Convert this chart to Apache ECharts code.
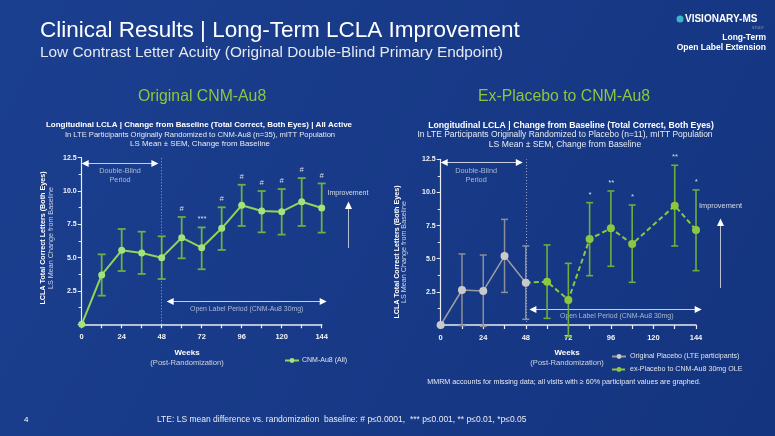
<!DOCTYPE html>
<html><head><meta charset="utf-8">
<script src="https://cdn.jsdelivr.net/npm/echarts@6/dist/echarts.min.js"></script>
<style>html,body{margin:0;padding:0;background:#16387f;}#c{width:775px;height:436px;}</style>
</head><body><div id="c"></div>
<script>
// ---- data ----
const weeks = [0,12,24,36,48,60,72,84,96,108,120,132,144];
const leftMean  = [0,3.7,5.55,5.35,5.0,6.5,5.75,7.2,8.93,8.5,8.45,9.2,8.73];
const leftUpper = [null,5.25,7.15,6.95,6.6,8.05,7.27,8.78,10.47,10.0,10.15,10.97,10.57];
const leftLower = [null,2.15,4.0,3.78,3.4,4.95,4.13,5.58,7.38,6.9,6.73,7.38,6.88];
const leftSig   = ['','','','','','#','***','#','#','#','#','#','#'];

const placeboWeeks = [0,12,24,36,48];
const placeboMean  = [0,2.64,2.57,5.2,3.19];
const placeboUpper = [null,5.36,5.28,7.97,5.96];
const placeboLower = [null,-0.05,-0.1,2.46,0.43];

const oleWeeks = [48,60,72,84,96,108,132,144];
const oleMean  = [3.19,3.27,1.89,6.49,7.29,6.11,9.0,7.17];
const oleUpper = [null,6.04,4.65,9.23,10.11,9.05,12.05,10.19];
const oleLower = [null,0.5,-0.88,3.72,4.43,3.22,5.96,4.1];
const oleSig   = ['','','','*','**','*','**','*'];

const xTicks = [0,24,48,72,96,120,144];
const yTicks = [2.5,5.0,7.5,10.0,12.5];

// ---- helpers ----
const FONT = 'Arial, "Liberation Sans", sans-serif';
function errSeries(name, xIdx, xs, hi, lo, sig, color, capW, lw){
  const data = [];
  xs.forEach((w,i)=>{ if(hi[i]!=null) data.push([w,hi[i],lo[i],i]); });
  return {
    type:'custom', name:name, xAxisIndex:xIdx, yAxisIndex:xIdx, z:3, silent:true,
    clip:false,
    data:data,
    renderItem:function(params, api){
      const x=api.value(0), h=api.value(1), l=api.value(2), k=api.value(3);
      const a=api.coord([x,h]), b=api.coord([x,l]);
      const st={stroke:color,lineWidth:lw};
      const ch=[
        {type:'line',shape:{x1:a[0],y1:a[1],x2:b[0],y2:b[1]},style:st},
        {type:'line',shape:{x1:a[0]-capW/2,y1:a[1],x2:a[0]+capW/2,y2:a[1]},style:st},
        {type:'line',shape:{x1:b[0]-capW/2,y1:b[1],x2:b[0]+capW/2,y2:b[1]},style:st}
      ];
      const s = sig ? sig[k] : '';
      if(s){
        ch.push({type:'text',x:a[0],y:a[1]-4,style:{text:s,align:'center',verticalAlign:'bottom',fill:'#d8dce8',font:'italic 7.5px '+FONT}});
      }
      return {type:'group',children:ch};
    }
  };
}
function textSeries(xIdx, items){
  return {
    type:'scatter', xAxisIndex:xIdx, yAxisIndex:xIdx, symbolSize:0, silent:true, clip:false,
    data: items.map(t=>({value:[t[0],t[1]],label:{show:true,formatter:t[2],position:'inside',color:'#d0d6e4',fontSize:t[3],fontFamily:FONT,lineHeight:9}}))
  };
}
function vline(xIdx){
  return {
    type:'line', xAxisIndex:xIdx, yAxisIndex:xIdx, data:[], silent:true, z:1,
    markLine:{silent:true,symbol:'none',label:{show:false},lineStyle:{color:'#9aa6c4',type:[1,2],width:1},data:[{xAxis:48}]}
  };
}
const xAxisBase = {
  type:'value', min:0, max:144, interval:12,
  axisLine:{show:true,lineStyle:{color:'#e8ebf2',width:1.5}},
  axisTick:{show:true,length:4,lineStyle:{color:'#e8ebf2',width:1.2}},
  axisLabel:{color:'#f2f4f8',fontSize:7.5,fontWeight:'bold',fontFamily:FONT,margin:9,
    formatter:v=> xTicks.indexOf(v)>=0 ? String(v) : ''},
  splitLine:{show:false}
};
const yAxisBase = {
  type:'value', min:0, max:12.5, interval:2.5,
  axisLine:{show:true,lineStyle:{color:'#e8ebf2',width:1.2}},
  axisTick:{show:true,length:4,lineStyle:{color:'#e8ebf2'}},
  minorTick:{show:true,splitNumber:2,length:3,lineStyle:{color:'#e8ebf2'}},
  axisLabel:{color:'#f2f4f8',fontSize:7,fontWeight:'bold',fontFamily:FONT,margin:5,
    formatter:v=> yTicks.indexOf(v)>=0 ? v.toFixed(1) : ''},
  splitLine:{show:false}
};

const chart = echarts.init(document.getElementById('c'), null, {renderer:'canvas'});
const option = {
  backgroundColor:{type:'linear',x:0,y:0,x2:1,y2:1,colorStops:[{offset:0,color:'#1b3f8f'},{offset:1,color:'#14347f'}]},
  animation:false,
  textStyle:{fontFamily:FONT},
  grid:[
    {left:81.7, top:157.7, width:240, height:166.6},
    {left:440.7, top:159.3, width:255.3, height:165.7}
  ],
  xAxis:[Object.assign({gridIndex:0},xAxisBase), Object.assign({gridIndex:1},xAxisBase)],
  yAxis:[Object.assign({gridIndex:0},yAxisBase), Object.assign({gridIndex:1},yAxisBase)],
  legend:[
    {data:['CNM-Au8 (All)'], left:279, top:352, itemWidth:14, itemHeight:6, itemGap:4,
     textStyle:{color:'#dfe3ec',fontSize:7,fontFamily:FONT,padding:[0,0,0,-2]}},
    {data:['Original Placebo (LTE participants)','ex-Placebo to CNM-Au8 30mg OLE'], orient:'vertical',
     left:606, top:348, itemGap:6, itemWidth:14, itemHeight:6,
     textStyle:{color:'#dfe3ec',fontSize:7.1,fontFamily:FONT,padding:[0,0,0,-1]}}
  ],
  series:[
    vline(0), vline(1),
    textSeries(0, [[23,11.2,'Double-Blind\nPeriod',7.3],[99,1.13,'Open Label Period (CNM-Au8 30mg)',6.9]]),
    textSeries(1, [[20,11.3,'Double-Blind\nPeriod',7.3],[99.3,0.7,'Open Label Period (CNM-Au8 30mg)',6.9]]),
    errSeries('errL',0,weeks,leftUpper,leftLower,leftSig,'#6dae45',8,1.8),
    {
      type:'line', name:'CNM-Au8 (All)', xAxisIndex:0, yAxisIndex:0, z:5,
      data: weeks.map((w,i)=>[w,leftMean[i]]),
      lineStyle:{color:'#93d455',width:2},
      itemStyle:{color:'#a6e27c'},
      symbol:'circle', symbolSize:7
    },
    errSeries('errP',1,placeboWeeks,placeboUpper,placeboLower,null,'#8d8f96',7,1.5),
    errSeries('errO',1,oleWeeks,oleUpper,oleLower,oleSig,'#6dae3c',7,1.6),
    {
      type:'line', name:'ex-Placebo to CNM-Au8 30mg OLE', xAxisIndex:1, yAxisIndex:1, z:5,
      data: oleWeeks.map((w,i)=> i===0 ? {value:[w,oleMean[i]],symbolSize:0} : [w,oleMean[i]]),
      lineStyle:{color:'#8cc83f',width:2,type:[5,3]},
      itemStyle:{color:'#8cc83f'},
      symbol:'circle', symbolSize:8
    },
    {
      type:'line', name:'Original Placebo (LTE participants)', xAxisIndex:1, yAxisIndex:1, z:6,
      data: placeboWeeks.map((w,i)=>[w,placeboMean[i]]),
      lineStyle:{color:'#9b9da3',width:1.5},
      itemStyle:{color:'#c9cacd'},
      symbol:'circle', symbolSize:8
    }
  ]
};
chart.setOption(option);

// ---- annotations (period arrows placed in data space) ----
const periodArrows = [
  {g:0, x0:0, x1:46, y:12.08},
  {g:0, x0:51, x1:147, y:1.73},
  {g:1, x0:0, x1:46.3, y:12.27},
  {g:1, x0:50, x1:147.2, y:1.21}
];
const gfx = [];
periodArrows.forEach(a=>{
  const p0 = chart.convertToPixel({gridIndex:a.g}, [a.x0, a.y]);
  const p1 = chart.convertToPixel({gridIndex:a.g}, [a.x1, a.y]);
  const y = Math.round(p0[1])+0.5;
  gfx.push({type:'line',shape:{x1:p0[0]+5,y1:y,x2:p1[0]-5,y2:y},style:{stroke:'#c8cede',lineWidth:1}});
  gfx.push({type:'polygon',shape:{points:[[p0[0],y],[p0[0]+7,y-3.5],[p0[0]+7,y+3.5]]},style:{fill:'#ffffff'}});
  gfx.push({type:'polygon',shape:{points:[[p1[0],y],[p1[0]-7,y-3.5],[p1[0]-7,y+3.5]]},style:{fill:'#ffffff'}});
});

const T = (x,y,text,font,fill,extra)=>Object.assign({type:'text',x:x,y:y,style:Object.assign({text:text,fill:fill,font:font+' '+FONT,verticalAlign:'middle'},extra||{})});
const C = {align:'center'};
gfx.push(
  T(40,31,'Clinical Results | Long-Term LCLA Improvement','22.5px','#ffffff'),
  T(40,53,'Low Contrast Letter Acuity (Original Double-Blind Primary Endpoint)','15.4px','#e4e8f0'),
  T(138,97,'Original CNM-Au8','15.8px','#8cc63f'),
  T(478,97,'Ex-Placebo to CNM-Au8','15.8px','#8cc63f'),
  {type:'circle',shape:{cx:680,cy:19,r:3.5},style:{fill:'#3fb6c8'}},
  T(685,19,'VISIONARY-MS','bold 10px','#ffffff'),
  T(752,28,'STUDY','3.5px','#8fa0c8'),
  T(766,38,'Long-Term','bold 8.5px','#ffffff',{align:'right'}),
  T(766,48,'Open Label Extension','bold 8.5px','#ffffff',{align:'right'}),
  T(199,125,'Longitudinal LCLA | Change from Baseline (Total Correct, Both Eyes) | All Active','bold 8px','#ffffff',C),
  T(200,134.5,'In LTE Participants Originally Randomized to CNM-Au8 (n=35), mITT Population','7.6px','#e8ebf2',C),
  T(200,144,'LS Mean \u00b1 SEM, Change from Baseline','7.9px','#e8ebf2',C),
  T(571,125.5,'Longitudinal LCLA | Change from Baseline (Total Correct, Both Eyes)','bold 8.7px','#ffffff',C),
  T(565,135,'In LTE Participants Originally Randomized to Placebo (n=11), mITT Population','8.5px','#e8ebf2',C),
  T(565,145,'LS Mean \u00b1 SEM, Change from Baseline','8.6px','#e8ebf2',C),
  Object.assign(T(43,238,'LCLA Total Correct Letters (Both Eyes)','bold 7.2px','#ffffff',C),{rotation:Math.PI/2}),
  Object.assign(T(51,238,'LS Mean Change from Baseline','7.2px','#cfd5e3',C),{rotation:Math.PI/2}),
  Object.assign(T(397,252,'LCLA Total Correct Letters (Both Eyes)','bold 7.2px','#ffffff',C),{rotation:Math.PI/2}),
  Object.assign(T(404,252,'LS Mean Change from Baseline','7.2px','#cfd5e3',C),{rotation:Math.PI/2}),
  T(187,353,'Weeks','bold 8px','#ffffff',C),
  T(187,362.5,'(Post-Randomization)','7.6px','#cfd5e3',C),
  T(567,353,'Weeks','bold 8px','#ffffff',C),
  T(567,362.5,'(Post-Randomization)','7.6px','#cfd5e3',C),
  T(348,193,'Improvement','7px','#d8dde8',C),
  {type:'line',shape:{x1:348.5,y1:248,x2:348.5,y2:207},style:{stroke:'#b8c0d4',lineWidth:1}},
  {type:'polygon',shape:{points:[[345,209],[352,209],[348.5,201.5]]},style:{fill:'#ffffff'}},
  T(720.5,206,'Improvement','7.4px','#d8dde8',C),
  {type:'line',shape:{x1:720.5,y1:288,x2:720.5,y2:224},style:{stroke:'#b8c0d4',lineWidth:1}},
  {type:'polygon',shape:{points:[[717,226],[724,226],[720.5,218.5]]},style:{fill:'#ffffff'}},
  T(564,382,'MMRM accounts for missing data; all visits with \u2265 60% participant values are graphed.','7.2px','#e4e8f0',C),
  T(157,419.5,'LTE: LS mean difference vs. randomization  baseline: # p\u22640.0001,  *** p\u22640.001, ** p\u22640.01, *p\u22640.05','8.5px','#e8ebf2'),
  T(24,420,'4','8px','#ffffff')
);
chart.setOption({graphic: gfx});
</script></body></html>
